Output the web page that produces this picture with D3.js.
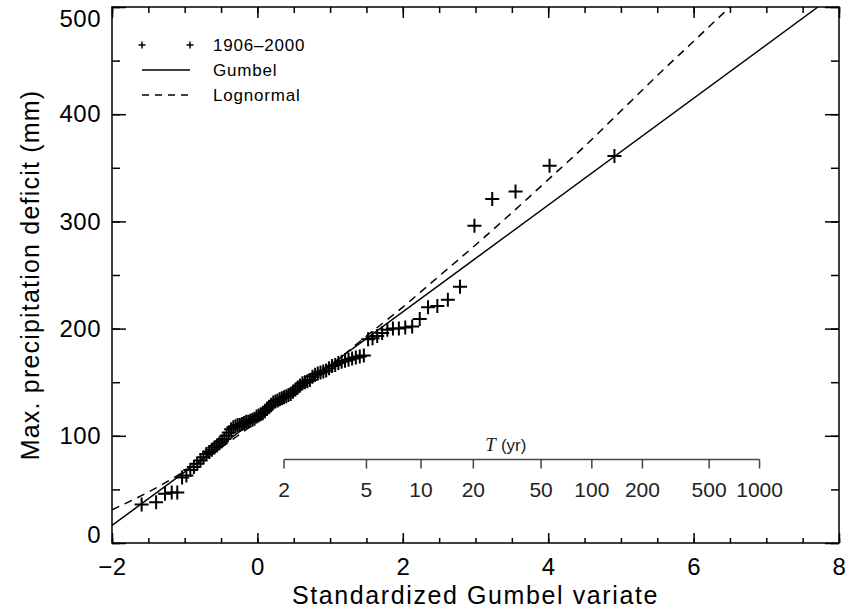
<!DOCTYPE html>
<html>
<head>
<meta charset="utf-8">
<script src="https://cdn.jsdelivr.net/npm/d3@7"></script>
<style>
    body { margin: 0; background: #fff; }
    svg text { font-family: "Liberation Sans", Arial, sans-serif; fill: #000; }
</style>
</head>
<body>
<svg id="chart" width="845" height="614"></svg>
<script>
// Annual max. precipitation deficit (mm), 1906-2000, sorted ascending
let deficits = [
    36, 38, 46, 47, 47,
    61, 63, 68, 71, 74, 77, 80, 83, 85, 87,
    89, 91, 93, 95, 97, 100, 103, 106, 108, 109,
    110, 110, 111, 112, 113, 113, 114, 115, 116, 118,
    119, 120, 121, 123, 125, 127, 129, 131, 132, 133,
    134, 135, 136, 137, 138, 139, 141, 143, 145, 147,
    149, 150, 151, 152, 155, 157, 158, 159, 160, 161,
    163, 165, 166, 168, 169, 170, 171, 172, 173, 174, 175,
    190, 191, 193, 196, 199, 200, 200, 201, 202,
    209, 220, 221, 227, 239, 296, 321, 328, 352, 361
];

// Gumbel fit (straight line in this space), read at its two ends
let gumbelVariate = [-2, 7.71];
let gumbelDeficit = [16.4, 500];

// Lognormal fit
let lognVariate = [-2, -1.5, -1, -0.5, 0, 0.5, 1, 1.5, 2, 2.5, 3, 3.5, 4, 4.5, 5, 5.5, 6, 6.5];
let lognDeficit = [31, 47.5, 67, 89, 113.5, 139, 165, 193, 220, 249, 278, 308, 339, 370, 403, 436, 468, 500];

// Return period axis
let returnPeriods = [2, 5, 10, 20, 50, 100, 200, 500, 1000];

let legendLabels = ["1906\u20132000", "Gumbel", "Lognormal"];

let xMajor = [-2, 0, 2, 4, 6, 8];
let yMajor = [0, 100, 200, 300, 400, 500];

let svg = d3.select("#chart"),
    margin = {top: 7, right: 6, bottom: 71, left: 112},
    width = 845 - margin.left - margin.right,
    height = 614 - margin.top - margin.bottom;

let xScale = d3.scaleLinear().domain([-2, 8]).range([0, width]);
let yScale = d3.scaleLinear().domain([0, 500]).range([height, 0]);

let g = svg.append("g")
    .attr("transform", "translate(" + margin.left + "," + margin.top + ")");

g.append("clipPath").attr("id", "plotClip")
    .append("rect").attr("width", width).attr("height", height);

// reduced Gumbel variate for a non-exceedance probability
function reducedVariate(p) {
    return -Math.log(-Math.log(p));
}

// median-rank plotting position of the i-th smallest of n values
let n = deficits.length;
let points = deficits.map(function (d, i) {
    return {u: reducedVariate((i + 1 - 0.3) / (n + 0.4)), v: d};
});

// ---- axes (ticks on all four sides, pointing inwards) ----
function styleAxis(sel) {
    sel.select(".domain").remove();
    sel.selectAll("line").attr("stroke-width", 1.5);
    sel.attr("font-family", null).attr("font-size", null);
    sel.selectAll("text")
        .style("font-size", "24px")
        .style("letter-spacing", "0.5px");
}

let xMinor = d3.range(-2, 8.01, 0.5);
let yMinor = d3.range(0, 500.1, 50);

g.append("g")
    .attr("transform", "translate(0," + height + ")")
    .call(d3.axisBottom(xScale).tickValues(xMinor).tickSize(-5).tickFormat(""))
    .call(styleAxis);
g.append("g")
    .attr("transform", "translate(0," + height + ")")
    .call(d3.axisBottom(xScale).tickValues(xMajor).tickSize(-10).tickPadding(15)
        .tickFormat(function (d) { return d < 0 ? "\u2212" + Math.abs(d) : d; }))
    .call(styleAxis);
g.append("g")
    .call(d3.axisTop(xScale).tickValues(xMinor).tickSize(-6).tickFormat(""))
    .call(styleAxis);
g.append("g")
    .call(d3.axisTop(xScale).tickValues(xMajor).tickSize(-11).tickFormat(""))
    .call(styleAxis);

g.append("g")
    .call(d3.axisLeft(yScale).tickValues(yMinor).tickSize(-8).tickFormat(""))
    .call(styleAxis);
let yAxis = g.append("g")
    .call(d3.axisLeft(yScale).tickValues(yMajor).tickSize(-14).tickPadding(11))
    .call(styleAxis);
// keep the end labels inside the picture
yAxis.selectAll(".tick text")
    .attr("y", function (d) {
        if (d === 500) return 12;
        if (d === 0) return -8;
        return 0;
    });
g.append("g")
    .attr("transform", "translate(" + width + ",0)")
    .call(d3.axisRight(yScale).tickValues(yMinor).tickSize(-8).tickFormat(""))
    .call(styleAxis);
g.append("g")
    .attr("transform", "translate(" + width + ",0)")
    .call(d3.axisRight(yScale).tickValues(yMajor).tickSize(-14).tickFormat(""))
    .call(styleAxis);

g.append("rect")
    .attr("width", width)
    .attr("height", height)
    .attr("fill", "none")
    .attr("stroke", "#000")
    .attr("stroke-width", 1.5);

// axis titles
svg.append("text")
    .attr("x", margin.left + width / 2)
    .attr("y", 604)
    .attr("text-anchor", "middle")
    .style("font-size", "25px")
    .style("letter-spacing", "1.6px")
    .text("Standardized Gumbel variate");

svg.append("text")
    .attr("transform", "translate(39," + (margin.top + height / 2) + ") rotate(-90)")
    .attr("text-anchor", "middle")
    .style("font-size", "25px")
    .style("letter-spacing", "1.2px")
    .text("Max. precipitation deficit (mm)");

// ---- return period axis inside the plot ----
let tY = 452.5;
let tAxis = g.append("g").attr("transform", "translate(0," + tY + ")");
tAxis.append("line")
    .attr("x1", xScale(reducedVariate(1 - 1 / returnPeriods[0])))
    .attr("x2", xScale(reducedVariate(1 - 1 / returnPeriods[returnPeriods.length - 1])))
    .attr("stroke", "#444")
    .attr("stroke-width", 1.5);
let tTicks = tAxis.selectAll(".tTick")
    .data(returnPeriods)
    .enter().append("g")
    .attr("class", "tTick")
    .attr("transform", function (d) {
        return "translate(" + xScale(reducedVariate(1 - 1 / d)) + ",0)";
    });
tTicks.append("line")
    .attr("y2", 9)
    .attr("stroke", "#444")
    .attr("stroke-width", 1.5);
tTicks.append("text")
    .attr("y", 37)
    .attr("text-anchor", "middle")
    .style("font-size", "21px")
    .style("fill", "#222")
    .text(function (d) { return d; });

let tTitle = tAxis.append("text")
    .attr("x", xScale(reducedVariate(1 - 1 / 20)) + 12)
    .attr("y", -9)
    .style("font-size", "17px")
    .style("fill", "#222");
tTitle.append("tspan")
    .style("font-family", "'Liberation Serif', serif")
    .style("font-style", "italic")
    .style("font-size", "19px")
    .text("T");
tTitle.append("tspan").attr("dx", 5).text("(yr)");

// ---- fitted curves ----
let line = d3.line()
    .x(function (d) { return xScale(d[0]); })
    .y(function (d) { return yScale(d[1]); });

let plot = g.append("g").attr("clip-path", "url(#plotClip)");

plot.append("path")
    .datum(d3.zip(gumbelVariate, gumbelDeficit))
    .attr("d", line)
    .attr("fill", "none")
    .attr("stroke", "#000")
    .attr("stroke-width", 1.5);

plot.append("path")
    .datum(d3.zip(lognVariate, lognDeficit))
    .attr("d", line.curve(d3.curveMonotoneX))
    .attr("fill", "none")
    .attr("stroke", "#000")
    .attr("stroke-width", 1.5)
    .attr("stroke-dasharray", "8,6");

// ---- observations ----
plot.selectAll(".obs")
    .data(points)
    .enter().append("path")
    .attr("class", "obs")
    .attr("transform", function (d) {
        return "translate(" + xScale(d.u) + "," + yScale(d.v) + ")";
    })
    .attr("d", "M-7,0H7M0,-7V7")
    .attr("stroke", "#000")
    .attr("stroke-width", 2);

// ---- legend ----
let legend = g.append("g").attr("transform", "translate(30,38)");
let rows = legend.selectAll(".row")
    .data(legendLabels)
    .enter().append("g")
    .attr("class", "row")
    .attr("transform", function (d, i) { return "translate(0," + (i * 25) + ")"; });

rows.filter(function (d, i) { return i === 0; })
    .selectAll(".mark")
    .data([0, 48])
    .enter().append("path")
    .attr("d", function (d) { return "M" + (d - 3.5) + ",0H" + (d + 3.5) + "M" + d + ",-3.5V3.5"; })
    .attr("stroke", "#000")
    .attr("stroke-width", 1.5);

rows.filter(function (d, i) { return i > 0; })
    .append("line")
    .attr("x2", 48)
    .attr("stroke", "#000")
    .attr("stroke-width", 1.3)
    .attr("stroke-dasharray", function (d, i) { return i === 1 ? "7,6" : null; });

rows.append("text")
    .attr("x", 71)
    .attr("dy", "0.35em")
    .style("font-size", "17px")
    .style("letter-spacing", "0.8px")
    .text(function (d) { return d; });
</script>
</body>
</html>
